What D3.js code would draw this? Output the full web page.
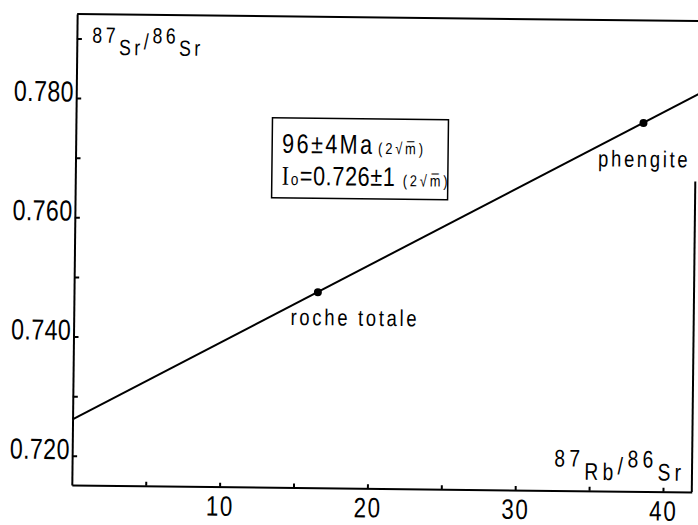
<html>
<head>
    <script src="https://cdn.jsdelivr.net/npm/d3@7"></script>
    <style>
        body { margin: 0; background: white; }
        svg { display: block; background: white; }
    </style>
</head>
<body>
<script>
    // tick values
    let xTickVals = [5, 10, 15, 20, 25, 30, 35, 40];
    let xLabels = [10, 20, 30, 40];
    let yTickVals = [0.72, 0.73, 0.74, 0.75, 0.76, 0.77, 0.78, 0.79];
    let yLabels = ["0.720", "0.740", "0.760", "0.780"];

    // the two analysed samples
    let samples = ["roche totale", "phengite"];
    let rbSr = [16.5, 38.4];
    let srSr = [0.7479, 0.7769];

    // isochron end points
    let isoX = [0, 42.3];
    let isoY = [0.7261, 0.7821];

    let FONT = "'Liberation Sans', Arial, sans-serif";
    let SX = 0.8; // condense the lettering like the stencil font

    let width = 698, height = 525;
    let svg = d3.select("body").append("svg")
        .attr("width", width)
        .attr("height", height);

    // the scan is slightly tilted, so the whole drawing is too
    let g = svg.append("g").attr("transform", "rotate(0.65,385,250)");

    let x = d3.scaleLinear().domain([0, 41.95]).range([74.5, 694.5]);
    let y = d3.scaleLinear().domain([0.7151, 0.7941]).range([488.5, 17.5]);

    function addText(parent, px, py, size, ls, sx) {
        return parent.append("text")
            .attr("transform", "translate(" + px + "," + py + ") scale(" + (sx || SX) + ",1)")
            .attr("font-family", FONT)
            .attr("font-size", size)
            .attr("letter-spacing", ls)
            .attr("fill", "#000");
    }

    // left axis
    let yAxis = g.append("g")
        .attr("transform", "translate(" + x(0) + ",0)")
        .call(d3.axisLeft(y)
            .tickValues(yTickVals)
            .tickSize(-5)
            .tickSizeOuter(0)
            .tickPadding(3)
            .tickFormat(d => yLabels.includes(d3.format(".3f")(d)) ? d3.format(".3f")(d) : ""));
    yAxis.attr("font-family", FONT).attr("font-size", 29);
    yAxis.selectAll("text")
        .attr("dy", 3)
        .attr("fill", "#000")
        .attr("letter-spacing", 0.5)
        .attr("transform", "scale(" + SX + ",1)");

    // bottom axis
    let xAxis = g.append("g")
        .attr("transform", "translate(0," + y.range()[0] + ")")
        .call(d3.axisBottom(x)
            .tickValues(xTickVals)
            .tickSize(-4)
            .tickSizeOuter(0)
            .tickPadding(0)
            .tickFormat(d => xLabels.includes(d) ? d : ""));
    xAxis.attr("font-family", FONT).attr("font-size", 28);
    xAxis.selectAll("text")
        .attr("y", 29)
        .attr("dy", 0)
        .attr("fill", "#000")
        .attr("letter-spacing", 2)
        .attr("transform", "scale(" + SX + ",1)")
        .attr("x", 0);

    g.selectAll(".domain, .tick line").attr("stroke", "#000").attr("stroke-width", 2);

    // frame top and right
    g.append("line")
        .attr("x1", x(0)).attr("x2", 710)
        .attr("y1", y.range()[1]).attr("y2", y.range()[1])
        .attr("stroke", "#000").attr("stroke-width", 2);
    g.append("line")
        .attr("x1", x.range()[1]).attr("x2", x.range()[1])
        .attr("y1", 178).attr("y2", y.range()[0])
        .attr("stroke", "#000").attr("stroke-width", 2);

    // isochron
    let line = d3.line().x(d => x(d[0])).y(d => y(d[1]));
    g.append("path")
        .datum(isoX.map((v, i) => [v, isoY[i]]))
        .attr("d", line)
        .attr("fill", "none")
        .attr("stroke", "#000")
        .attr("stroke-width", 2);

    // sample points
    g.selectAll(".pt")
        .data(samples)
        .enter().append("circle")
        .attr("class", "pt")
        .attr("cx", (d, i) => x(rbSr[i]))
        .attr("cy", (d, i) => y(srSr[i]))
        .attr("r", 4)
        .attr("fill", "#000");

    let labelOffset = [[-27, 33], [-45, 44]];
    samples.forEach((s, i) => {
        addText(g, x(rbSr[i]) + labelOffset[i][0], y(srSr[i]) + labelOffset[i][1], 23, 3.4)
            .text(s);
    });

    // axis titles
    let yTitle = addText(g, 90, 46, 22, 4.5);
    yTitle.append("tspan").text("87");
    yTitle.append("tspan").attr("dy", 12).text("Sr");
    yTitle.append("tspan").attr("dy", -6).text("/");
    yTitle.append("tspan").attr("dy", -6).text("86");
    yTitle.append("tspan").attr("dy", 12).text("Sr");

    let xTitle = addText(g, 688, 464.5, 24, 5.5).attr("text-anchor", "end");
    xTitle.append("tspan").text("87");
    xTitle.append("tspan").attr("dy", 13).text("Rb");
    xTitle.append("tspan").attr("dy", -6).text("/");
    xTitle.append("tspan").attr("dy", -7).text("86");
    xTitle.append("tspan").attr("dy", 13).text("Sr");

    // result box
    g.append("rect")
        .attr("x", 271).attr("y", 119)
        .attr("width", 176).attr("height", 80)
        .attr("fill", "none")
        .attr("stroke", "#000")
        .attr("stroke-width", 1.5);

    addText(g, 281, 154, 27, 3).text("96±4Ma");
    addText(g, 377, 154, 16, 3.6).text("(2√m̅)");

    addText(g, 281, 186, 27, 0).attr("font-family", "'Liberation Serif', serif").text("I");
    addText(g, 290, 186, 17, 0).text("o");
    addText(g, 299, 186, 27, 0.8).text("=0.726±1");
    addText(g, 402, 186, 16, 3.6).text("(2√m̅)");
</script>
</body>
</html>
